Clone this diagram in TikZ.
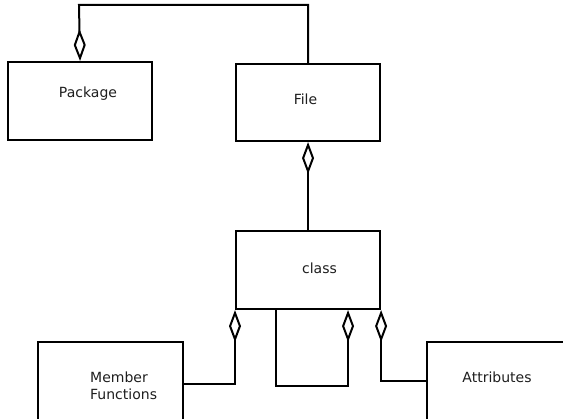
\documentclass[tikz,border=0pt]{standalone}
\usepackage{fontspec}
\setmainfont{DejaVu Sans}
\usepackage{tikz}
\usetikzlibrary{arrows.meta}
\definecolor{T}{RGB}{30, 30, 30}

\begin{document}
\begin{tikzpicture}[x=1pt, y=-1pt,
   box/.style={draw, line width=2.1pt, minimum width=144pt, minimum height=78pt, anchor=north west, inner sep=0pt},
   txt/.style={text=T, font=\fontsize{14}{17}\selectfont, inner sep=0pt},
   agg/.style={line width=2pt, -{Diamond[open, length=32pt, width=12pt, line width=2pt]}}]
   \useasboundingbox (0,0) rectangle (563,419);
   \node[box] (package) at (7,61) {};
   \node[box, minimum height=77pt] (file) at (235,63) {};
   \node[box] (class) at (235,230) {};
   \node[box, minimum width=145pt] (member) at (37,341) {};
   \node[box] (attr) at (426,341) {};
   \node[txt] (packagetxt) at (88,94) {Package};
   \node[txt] (filetxt) at (305.5,99) {File};
   \node[txt] (classtxt) at (319.5,268) {class};
   \node[txt, align=left, anchor=west] (membertxt) at (90,385.5) {Member\\Functions};
   \node[txt] (attrtxt) at (497,377) {Attributes};
   \coordinate (top) at (79,5);
   \draw[agg] (file.north) |- (top) -- (package.north);
   \draw[agg] (class.north) -- (file.south);
   \draw[agg] ([yshift=-3pt]member.east) -| (class.south west);
   \draw[agg] (attr.west) -| (class.south east);
   \draw[agg] ([xshift=-32pt]class.south) |- ([xshift=40pt, yshift=-76pt]class.south) -- ([xshift=40pt]class.south);
\end{tikzpicture}
\end{document}
